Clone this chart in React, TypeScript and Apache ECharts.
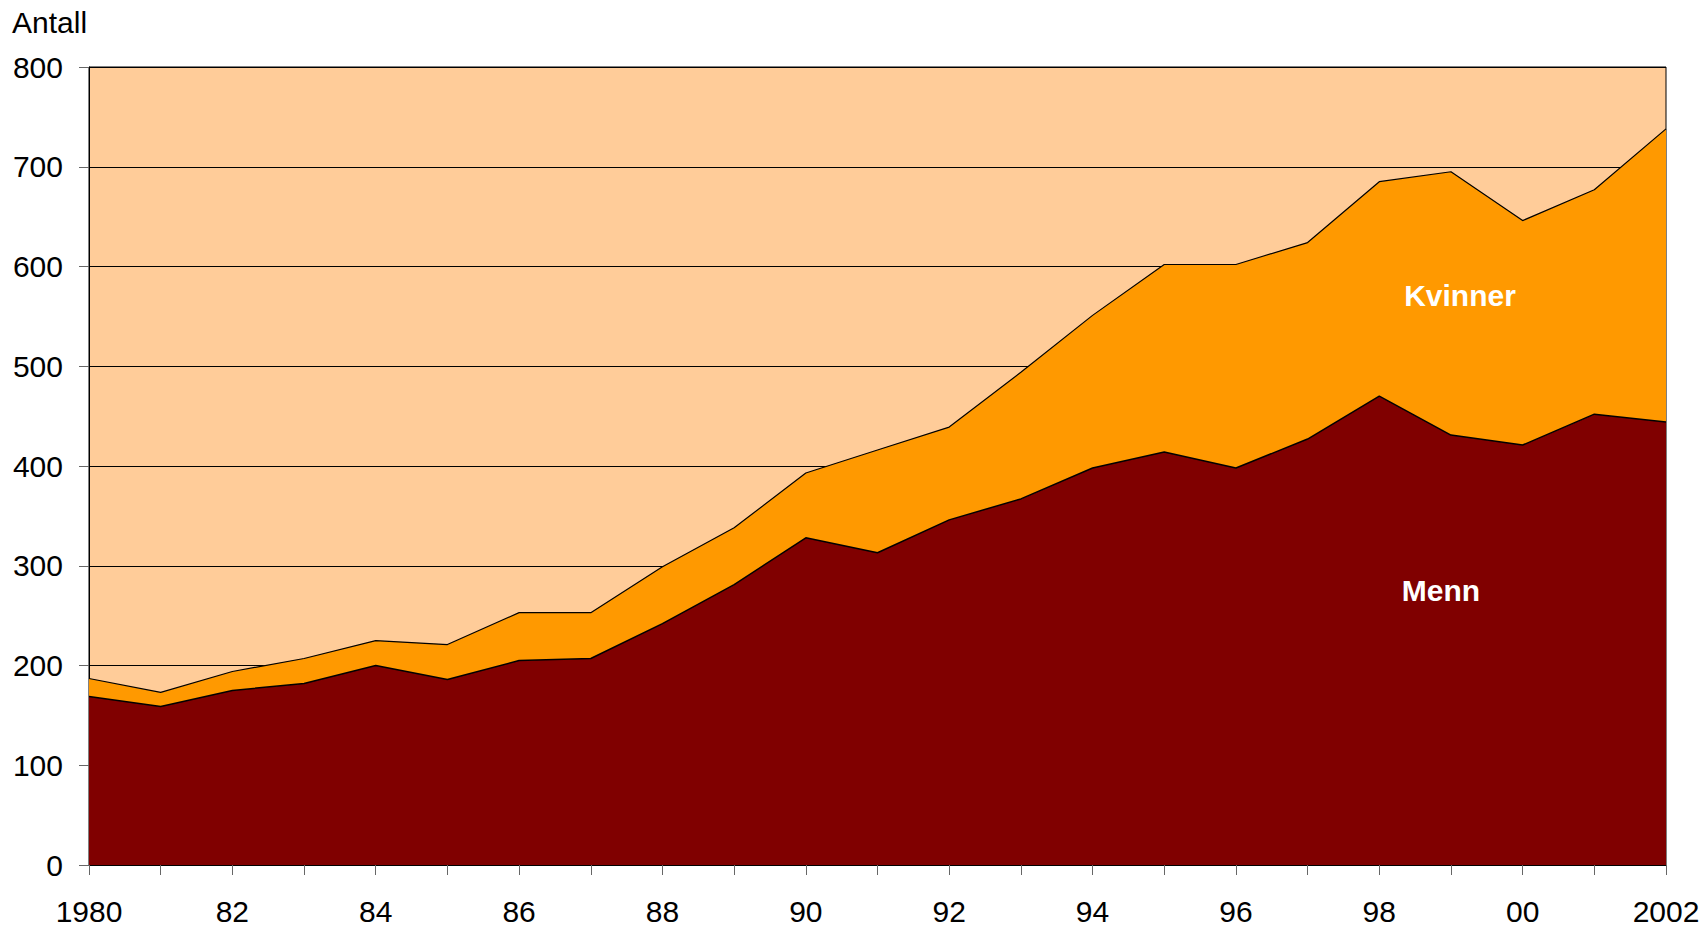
import React, { useEffect, useRef } from "react";
import * as echarts from "echarts";

const years = ["1980","81","82","83","84","85","86","87","88","89","90","91","92","93","94","95","96","97","98","99","00","01","2002"];
const menn = [169,159,175,182,200,186,205,207,242,281,328,313,346,367,398,414,398,427,470,431,421,452,444];
const kvinner = [18,14,19,25,25,35,48,46,57,57,65,103,93,127,153,188,204,197,215,264,225,225,294];
const yTicks = { min: 0, max: 800, interval: 100 };
const yTitle = "Antall";
const seriesNames = ["Menn", "Kvinner"];

export default function App() {
  const ref = useRef<HTMLDivElement>(null);
  useEffect(() => {
    if (!ref.current) return;
    const chart = echarts.init(ref.current, null, { renderer: "svg" });
    const font = "Arial, 'Liberation Sans', sans-serif";
    chart.setOption({
      animation: false,
      grid: {
        left: 89, right: 40, top: 67, bottom: 62,
        show: true, backgroundColor: "#FFCC99", borderColor: "#000", borderWidth: 1,
      },
      xAxis: {
        type: "category",
        data: years,
        boundaryGap: false,
        axisLine: { lineStyle: { color: "#000", width: 1 } },
        axisTick: { show: true, interval: 0, length: 10, inside: false, lineStyle: { color: "#666" } },
        axisLabel: { interval: 1, color: "#000", fontSize: 30, fontFamily: font, margin: 31 },
        splitLine: { show: false },
      },
      yAxis: {
        type: "value",
        min: yTicks.min, max: yTicks.max, interval: yTicks.interval,
        axisLine: { show: true, lineStyle: { color: "#000", width: 1 } },
        axisTick: { show: true, length: 10, lineStyle: { color: "#666" } },
        axisLabel: { color: "#000", fontSize: 30, fontFamily: font, margin: 26 },
        splitLine: { show: true, lineStyle: { color: "#000", width: 1 } },
      },
      graphic: [
        { type: "text", left: 12, top: 7, z: 100, style: { text: yTitle, fontSize: 30, fontFamily: font, fill: "#000" } },
        { type: "text", x: 1460, y: 295, z: 100, style: { text: seriesNames[1], fontSize: 30, fontWeight: "bold", fontFamily: font, fill: "#fff", align: "center", verticalAlign: "middle" } },
        { type: "text", x: 1441, y: 590, z: 100, style: { text: seriesNames[0], fontSize: 30, fontWeight: "bold", fontFamily: font, fill: "#fff", align: "center", verticalAlign: "middle" } },
      ],
      series: [
        {
          name: seriesNames[0], type: "line", stack: "total", data: menn,
          symbol: "none",
          lineStyle: { color: "#000", width: 1.5 },
          areaStyle: { color: "#800000", opacity: 1 },
        },
        {
          name: seriesNames[1], type: "line", stack: "total", data: kvinner,
          symbol: "none",
          lineStyle: { color: "#000", width: 1.2 },
          areaStyle: { color: "#FF9900", opacity: 1 },
        },
      ],
    });
    return () => chart.dispose();
  }, []);
  return <div ref={ref} style={{ position: "absolute", left: 0, top: 0, width: 1706, height: 927 }} />;
}
